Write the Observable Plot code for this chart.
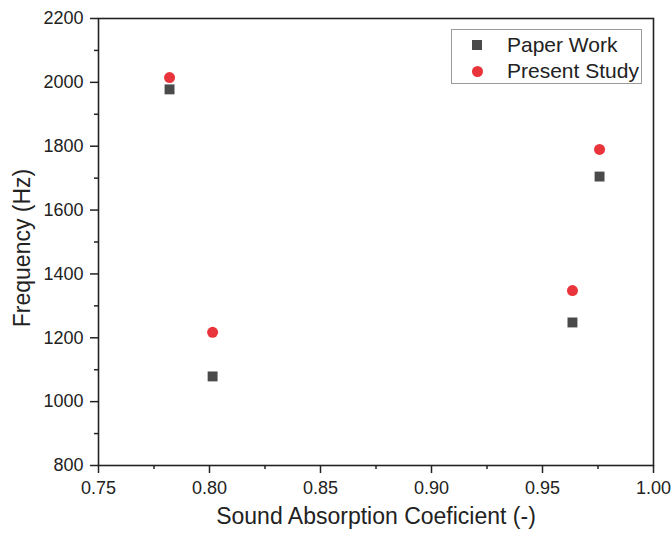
<!DOCTYPE html>
<html>
<head>
<meta charset="utf-8">
<script src="https://cdn.jsdelivr.net/npm/d3@7"></script>
<script src="https://cdn.jsdelivr.net/npm/@observablehq/plot@0.6"></script>
<style>
  html, body { margin: 0; padding: 0; background: #fff; }
  #wrap { position: relative; width: 672px; height: 539px; font-family: "Liberation Sans", Arial, sans-serif; }
  #legend { position: absolute; left: 451px; top: 29px; width: 191px; height: 55px; border: 1px solid #9a9a9a; background: #fff; box-sizing: border-box; }
  .item { position: absolute; left: 0; height: 26px; display: flex; align-items: center; font-size: 21px; color: #222; white-space: nowrap; }
  .sw { width: 50px; margin-right: 5px; display: flex; justify-content: center; }
  .sq { width: 10px; height: 10px; background: #4a4a4a; }
  .ci { width: 11px; height: 11px; border-radius: 50%; background: #e8343a; }
</style>
</head>
<body>
<div id="wrap">
  <div id="chart"></div>
  <div id="legend"></div>
</div>
<script>
const seriesNames = ["Paper Work", "Present Study"];
const absorption = [0.782, 0.8014, 0.9635, 0.9757];
const paperWork = [1978, 1079, 1248, 1705];
const presentStudy = [2015, 1217, 1348, 1790];
const xTicks = [0.75, 0.80, 0.85, 0.90, 0.95, 1.00];
const xMinorTicks = [0.775, 0.825, 0.875, 0.925, 0.975];
const yTicks = [800, 1000, 1200, 1400, 1600, 1800, 2000, 2200];
const yMinorTicks = [900, 1100, 1300, 1500, 1700, 1900, 2100];
const xTitle = "Sound Absorption Coeficient (-)";
const yTitle = "Frequency (Hz)";
const colors = ["#4a4a4a", "#e8343a"];

const rows = [];
absorption.forEach((a, i) => {
  rows.push({x: a, y: paperWork[i], s: seriesNames[0]});
  rows.push({x: a, y: presentStudy[i], s: seriesNames[1]});
});

const chart = Plot.plot({
  width: 672,
  height: 539,
  marginLeft: 98,
  marginRight: 19,
  marginTop: 18,
  marginBottom: 74,
  style: {fontFamily: "'Liberation Sans', Arial, sans-serif", color: "#222", background: "#fff"},
  x: {domain: [0.75, 1.0]},
  y: {domain: [800, 2200]},
  marks: [
    Plot.axisX({ticks: xTicks, tickFormat: d3.format(".2f"), tickSize: 8, tickPadding: 8, fontSize: 18, label: null, stroke: "#222", strokeWidth: 1.5}),
    Plot.axisX({ticks: xMinorTicks, tickSize: 4, text: null, label: null, stroke: "#222", strokeWidth: 1.5}),
    Plot.axisY({ticks: yTicks, tickFormat: d => String(d), tickSize: 8, tickPadding: 7, fontSize: 18, label: null, stroke: "#222", strokeWidth: 1.5}),
    Plot.axisY({ticks: yMinorTicks, tickSize: 4, text: null, label: null, stroke: "#222", strokeWidth: 1.5}),
    Plot.frame({stroke: "#222", strokeWidth: 1.6}),
    Plot.text([xTitle], {frameAnchor: "bottom", dy: 58, fontSize: 23, fill: "#222"}),
    Plot.text([yTitle], {frameAnchor: "left", textAnchor: "middle", dx: -76, dy: 6, rotate: -90, fontSize: 23, fill: "#222"}),
    Plot.dot(rows.filter(d => d.s === seriesNames[0]), {x: "x", y: "y", symbol: "square", r: 5.6, fill: colors[0], stroke: "none"}),
    Plot.dot(rows.filter(d => d.s === seriesNames[1]), {x: "x", y: "y", symbol: "circle", r: 5.5, fill: colors[1], stroke: "none"})
  ]
});
document.getElementById("chart").appendChild(chart);

const legend = document.getElementById("legend");
seriesNames.forEach((name, i) => {
  const item = document.createElement("div");
  item.className = "item";
  item.style.top = (2 + i * 26) + "px";
  const sw = document.createElement("div");
  sw.className = "sw";
  const m = document.createElement("div");
  m.className = i === 0 ? "sq" : "ci";
  sw.appendChild(m);
  const t = document.createElement("span");
  t.textContent = name;
  item.appendChild(sw);
  item.appendChild(t);
  legend.appendChild(item);
});
</script>
</body>
</html>
